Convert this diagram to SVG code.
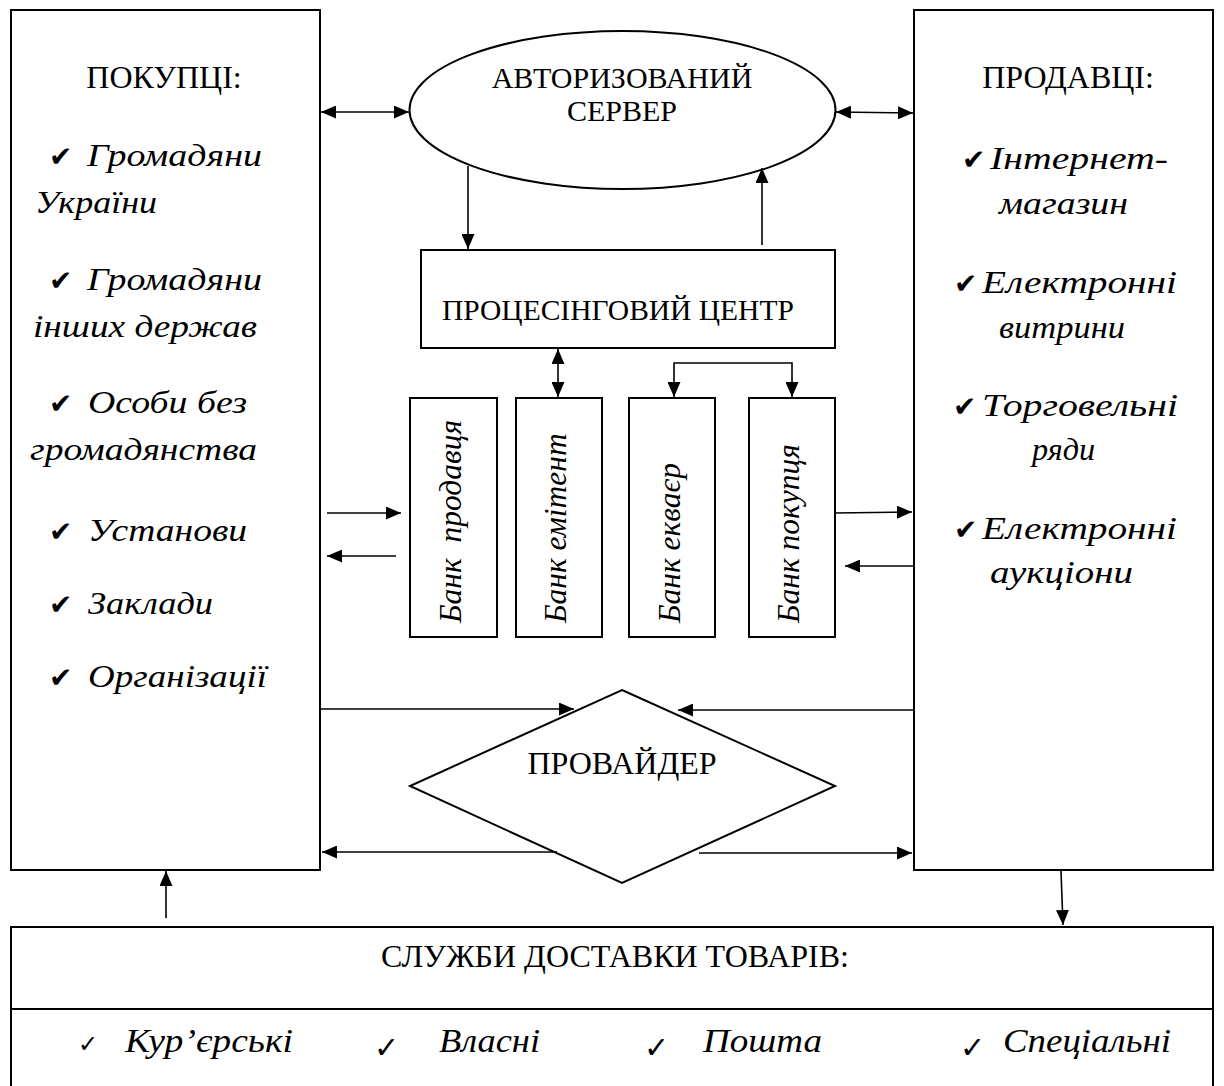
<svg xmlns="http://www.w3.org/2000/svg" width="1224" height="1086" viewBox="0 0 1224 1086">
<style>
.box{fill:#fff;stroke:#000;stroke-width:2}
.ln{stroke:#000;stroke-width:1.6;fill:none}
.t{font-family:"Liberation Serif","Times New Roman",serif;font-size:32px;fill:#000}
.i{font-style:italic;font-size:32px}
.b{font-style:italic;font-size:31.5px}
.d{font-style:italic;font-size:33px}
.ck{font-family:"DejaVu Sans",sans-serif;font-size:28px;fill:#000}
.ck2{font-family:"DejaVu Sans",sans-serif;font-size:30px;fill:#000}
.m{text-anchor:middle}
</style>
<defs>
<marker id="ah" viewBox="0 0 15 13" refX="15" refY="6.5" markerWidth="15" markerHeight="13" markerUnits="userSpaceOnUse" orient="auto-start-reverse"><path d="M0,0L15,6.5L0,13z" fill="#000"/></marker>
</defs>
<rect width="1224" height="1086" fill="#fff"/>

<g id="buyers">
<rect class="box" x="11" y="10" width="309" height="860"/>
<text class="t m" x="164" y="88">ПОКУПЦІ:</text>
<text class="ck" x="49" y="166">✔</text>
<text class="t i" x="87" y="166" textLength="175" lengthAdjust="spacingAndGlyphs">Громадяни</text>
<text class="t i" x="35" y="213" textLength="122" lengthAdjust="spacingAndGlyphs">України</text>
<text class="ck" x="49" y="290">✔</text>
<text class="t i" x="87" y="290" textLength="175" lengthAdjust="spacingAndGlyphs">Громадяни</text>
<text class="t i" x="33" y="337" textLength="224" lengthAdjust="spacingAndGlyphs">інших держав</text>
<text class="ck" x="49" y="413">✔</text>
<text class="t i" x="88" y="413" textLength="159" lengthAdjust="spacingAndGlyphs">Особи без</text>
<text class="t i" x="30" y="460" textLength="227" lengthAdjust="spacingAndGlyphs">громадянства</text>
<text class="ck" x="49" y="541">✔</text>
<text class="t i" x="88" y="541" textLength="159" lengthAdjust="spacingAndGlyphs">Установи</text>
<text class="ck" x="49" y="614">✔</text>
<text class="t i" x="88" y="614" textLength="125" lengthAdjust="spacingAndGlyphs">Заклади</text>
<text class="ck" x="49" y="687">✔</text>
<text class="t i" x="88" y="687" textLength="179" lengthAdjust="spacingAndGlyphs">Організації</text>
</g>

<g id="sellers">
<rect class="box" x="914" y="10" width="299" height="860"/>
<text class="t m" x="1068" y="88">ПРОДАВЦІ:</text>
<text class="ck" x="962" y="169">✔</text>
<text class="t i" x="990" y="169" textLength="178" lengthAdjust="spacingAndGlyphs">Інтернет-</text>
<text class="t i" x="999" y="214" textLength="129" lengthAdjust="spacingAndGlyphs">магазин</text>
<text class="ck" x="954" y="293">✔</text>
<text class="t i" x="982" y="293" textLength="195" lengthAdjust="spacingAndGlyphs">Електронні</text>
<text class="t i" x="999" y="338" textLength="126" lengthAdjust="spacingAndGlyphs">витрини</text>
<text class="ck" x="953" y="416">✔</text>
<text class="t i" x="982" y="416" textLength="196" lengthAdjust="spacingAndGlyphs">Торговельні</text>
<text class="t i" x="1032" y="460" textLength="63" lengthAdjust="spacingAndGlyphs">ряди</text>
<text class="ck" x="954" y="539">✔</text>
<text class="t i" x="982" y="539" textLength="195" lengthAdjust="spacingAndGlyphs">Електронні</text>
<text class="t i" x="990" y="583" textLength="143" lengthAdjust="spacingAndGlyphs">аукціони</text>
</g>

<g id="server">
<ellipse class="box" cx="622.5" cy="110" rx="213" ry="79"/>
<text class="t m" x="622" y="88" style="font-size:30px">АВТОРИЗОВАНИЙ</text>
<text class="t m" x="622" y="121" style="font-size:30px">СЕРВЕР</text>
</g>

<g id="processing">
<rect class="box" x="421" y="250" width="414" height="98"/>
<text class="t" x="442" y="320" style="font-size:29.5px">ПРОЦЕСІНГОВИЙ ЦЕНТР</text>
</g>

<g id="bank-seller">
<rect class="box" x="410" y="398" width="87" height="239"/>
<text class="t b" transform="translate(461,623) rotate(-90)" xml:space="preserve">Банк  продавця</text>
</g>
<g id="bank-issuer">
<rect class="box" x="516" y="398" width="86" height="239"/>
<text class="t b" transform="translate(566,623) rotate(-90)">Банк емітент</text>
</g>
<g id="bank-acquirer">
<rect class="box" x="629" y="398" width="86" height="239"/>
<text class="t b" transform="translate(680,623) rotate(-90)">Банк екваєр</text>
</g>
<g id="bank-buyer">
<rect class="box" x="749" y="398" width="86" height="239"/>
<text class="t b" transform="translate(799,623) rotate(-90)">Банк покупця</text>
</g>

<g id="provider">
<polygon class="box" points="622,690 835,786 622,883 410,786"/>
<text class="t m" x="622" y="774">ПРОВАЙДЕР</text>
</g>

<g id="delivery">
<rect class="box" x="11" y="927" width="1202" height="180"/>
<line class="ln" x1="11" y1="1009" x2="1213" y2="1009" style="stroke-width:2"/>
<text class="t m" x="615" y="967">СЛУЖБИ ДОСТАВКИ ТОВАРІВ:</text>
<text class="ck2" x="78" y="1052" style="font-size:24px">✓</text>
<text class="t d" x="125" y="1052" textLength="168" lengthAdjust="spacingAndGlyphs">Кур’єрські</text>
<text class="ck2" x="374" y="1058">✓</text>
<text class="t d" x="439" y="1052" textLength="101" lengthAdjust="spacingAndGlyphs">Власні</text>
<text class="ck2" x="644" y="1058">✓</text>
<text class="t d" x="703" y="1052" textLength="119" lengthAdjust="spacingAndGlyphs">Пошта</text>
<text class="ck2" x="960" y="1058">✓</text>
<text class="t d" x="1003" y="1052" textLength="168" lengthAdjust="spacingAndGlyphs">Спеціальні</text>
</g>

<g id="connectors">
<line class="ln" x1="321" y1="112" x2="409" y2="112" marker-start="url(#ah)" marker-end="url(#ah)"/>
<line class="ln" x1="836" y1="112" x2="913" y2="113" marker-start="url(#ah)" marker-end="url(#ah)"/>
<line class="ln" x1="468" y1="166" x2="468" y2="249" marker-end="url(#ah)"/>
<line class="ln" x1="762" y1="245" x2="762" y2="168" marker-end="url(#ah)"/>
<line class="ln" x1="558" y1="349" x2="558" y2="397" marker-start="url(#ah)" marker-end="url(#ah)"/>
<path class="ln" d="M674,397 L674,363 L792,363 L792,397" marker-start="url(#ah)" marker-end="url(#ah)"/>
<line class="ln" x1="327" y1="513" x2="401" y2="513" marker-end="url(#ah)"/>
<line class="ln" x1="396" y1="556" x2="327" y2="556" marker-end="url(#ah)"/>
<line class="ln" x1="835" y1="513" x2="912" y2="512" marker-end="url(#ah)"/>
<line class="ln" x1="914" y1="566" x2="845" y2="566" marker-end="url(#ah)"/>
<line class="ln" x1="321" y1="709" x2="574" y2="709" marker-end="url(#ah)"/>
<line class="ln" x1="913" y1="710" x2="678" y2="710" marker-end="url(#ah)"/>
<line class="ln" x1="557" y1="852" x2="322" y2="852" marker-end="url(#ah)"/>
<line class="ln" x1="699" y1="853" x2="912" y2="853" marker-end="url(#ah)"/>
<line class="ln" x1="166" y1="918" x2="166" y2="871" marker-end="url(#ah)"/>
<line class="ln" x1="1061" y1="871" x2="1063" y2="925" marker-end="url(#ah)"/>
</g>
</svg>
